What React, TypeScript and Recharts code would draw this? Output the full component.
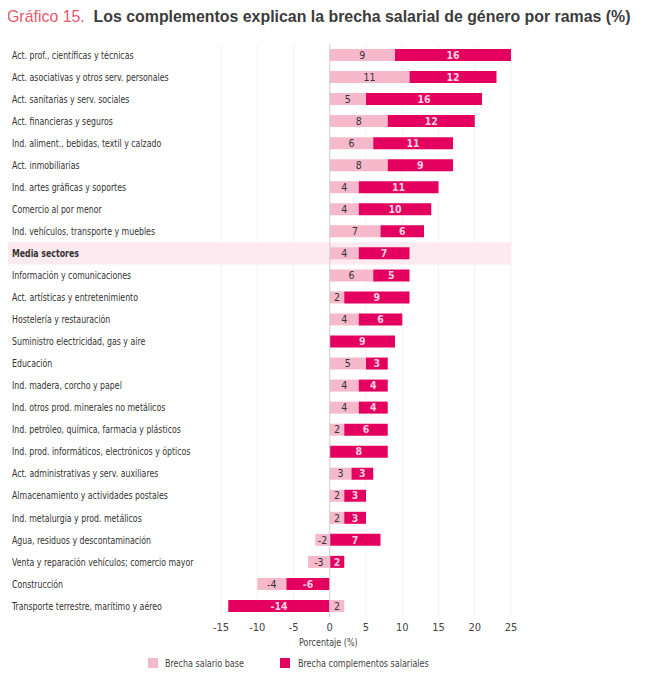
import { BarChart, Bar, XAxis, YAxis, CartesianGrid, ReferenceLine, ReferenceArea, LabelList } from 'recharts';

const categories = [
  'Act. prof., científicas y técnicas',
  'Act. asociativas y otros serv. personales',
  'Act. sanitarias y serv. sociales',
  'Act. financieras y seguros',
  'Ind. aliment., bebidas, textil y calzado',
  'Act. inmobiliarias',
  'Ind. artes gráficas y soportes',
  'Comercio al por menor',
  'Ind. vehículos, transporte y muebles',
  'Media sectores',
  'Información y comunicaciones',
  'Act. artísticas y entretenimiento',
  'Hostelería y restauración',
  'Suministro electricidad, gas y aire',
  'Educación',
  'Ind. madera, corcho y papel',
  'Ind. otros prod. minerales no metálicos',
  'Ind. petróleo, química, farmacia y plásticos',
  'Ind. prod. informáticos, electrónicos y ópticos',
  'Act. administrativas y serv. auxiliares',
  'Almacenamiento y actividades postales',
  'Ind. metalurgia y prod. metálicos',
  'Agua, residuos y descontaminación',
  'Venta y reparación vehículos; comercio mayor',
  'Construcción',
  'Transporte terrestre, marítimo y aéreo',
];

const brechaBase = [9, 11, 5, 8, 6, 8, 4, 4, 7, 4, 6, 2, 4, 0, 5, 4, 4, 2, 0, 3, 2, 2, -2, -3, -4, 2];
const brechaComplementos = [16, 12, 16, 12, 11, 9, 11, 10, 6, 7, 5, 9, 6, 9, 3, 4, 4, 6, 8, 3, 3, 3, 7, 2, -6, -14];

const xTicks = [-15, -10, -5, 0, 5, 10, 15, 20, 25];

const HIGHLIGHT = 'Media sectores';
const BASE_NAME = 'Brecha salario base';
const COMP_NAME = 'Brecha complementos salariales';
const LIGHT = '#f5b9cb';
const MAGENTA = '#e4005e';
const NARROW = '"Liberation Sans Narrow", "DejaVu Sans Condensed", "Arial Narrow", sans-serif';

// base split by sign so that, on the negative side, the complementos sit next to zero
const data = categories.map((name, i) => ({
  name,
  basePos: brechaBase[i] > 0 ? brechaBase[i] : 0,
  comp: brechaComplementos[i],
  baseNeg: brechaBase[i] < 0 ? brechaBase[i] : 0,
}));

const hideZero = (v: unknown) => (Number(v) === 0 ? '' : String(v));

function CategoryTick(props: any) {
  const { y, payload } = props;
  const isMedia = payload.value === HIGHLIGHT;
  return (
    <g>
      {isMedia && <rect x={5} y={y - 11} width={216} height={22} fill="#fdeaf0" />}
      <text
        transform={`translate(12 ${y}) scale(0.83 1)`}
        dy="0.35em"
        textAnchor="start"
        fontSize={10.5}
        fill="#333"
        fontFamily={NARROW}
        fontWeight={isMedia ? 'bold' : 'normal'}
      >
        {payload.value}
      </text>
    </g>
  );
}

const squeeze = { display: 'inline-block', transform: 'scaleX(0.85)', transformOrigin: 'left center', whiteSpace: 'nowrap' as const };

export default function App() {
  return (
    <div style={{ position: 'relative', width: 647, height: 680, margin: -8, background: '#fff', fontFamily: '"Liberation Sans", Arial, sans-serif' }}>
      <div style={{ position: 'absolute', left: 7, top: 7, fontSize: 15.9, whiteSpace: 'nowrap', lineHeight: '20px' }}>
        <span style={{ color: '#e2586c' }}>Gráfico 15.</span>
        <span style={{ color: '#3c3c3c', fontWeight: 'bold' }}>&nbsp; Los complementos explican la brecha salarial de género por ramas (%)</span>
      </div>

      <BarChart
        width={647}
        height={680}
        data={data}
        layout="vertical"
        stackOffset="sign"
        barSize={12}
        margin={{ top: 44, right: 136, bottom: 30, left: 0 }}
        style={{ position: 'absolute', left: 0, top: 0 }}
      >
        <CartesianGrid horizontal={false} stroke="#f3f3f3" />
        <ReferenceArea y1={HIGHLIGHT} y2={HIGHLIGHT} x1={-15} x2={25} fill="#fdeaf0" fillOpacity={1} stroke="none" ifOverflow="visible" />
        <XAxis
          type="number"
          domain={[-15, 25]}
          ticks={xTicks}
          axisLine={false}
          tickLine={false}
          tickSize={4}
          tickMargin={2}
          height={33}
          tick={{ fontSize: 11, fill: '#444', fontFamily: NARROW }}
        />
        <YAxis type="category" dataKey="name" width={221} axisLine={false} tickLine={false} interval={0} tick={<CategoryTick />} />
        <ReferenceLine x={0} stroke="#cfcfcf" strokeWidth={1} />
        <Bar dataKey="basePos" stackId="a" fill={LIGHT} name={BASE_NAME} isAnimationActive={false}>
          <LabelList dataKey="basePos" position="center" formatter={hideZero} fill="#333" fontSize={10.5} fontFamily={NARROW} />
        </Bar>
        <Bar dataKey="comp" stackId="a" fill={MAGENTA} name={COMP_NAME} isAnimationActive={false}>
          <LabelList dataKey="comp" position="center" formatter={hideZero} fill="#ffd3e2" fontSize={10.5} fontWeight="bold" fontFamily={NARROW} />
        </Bar>
        <Bar dataKey="baseNeg" stackId="a" fill={LIGHT} name={BASE_NAME} isAnimationActive={false}>
          <LabelList dataKey="baseNeg" position="center" formatter={hideZero} fill="#333" fontSize={10.5} fontFamily={NARROW} />
        </Bar>
      </BarChart>

      <div style={{ position: 'absolute', left: 299, top: 636, fontSize: 10.5, color: '#444', fontFamily: NARROW }}>
        <span style={squeeze}>Porcentaje (%)</span>
      </div>

      <div style={{ position: 'absolute', top: 657, left: 148, fontSize: 10.5, color: '#444', fontFamily: NARROW, height: 12 }}>
        <span style={{ position: 'absolute', left: 0, top: 1, width: 10, height: 10, background: LIGHT }} />
        <span style={{ ...squeeze, position: 'absolute', left: 17, top: 0 }}>{BASE_NAME}</span>
        <span style={{ position: 'absolute', left: 132, top: 1, width: 10, height: 10, background: MAGENTA }} />
        <span style={{ ...squeeze, position: 'absolute', left: 150, top: 0 }}>{COMP_NAME}</span>
      </div>
    </div>
  );
}
